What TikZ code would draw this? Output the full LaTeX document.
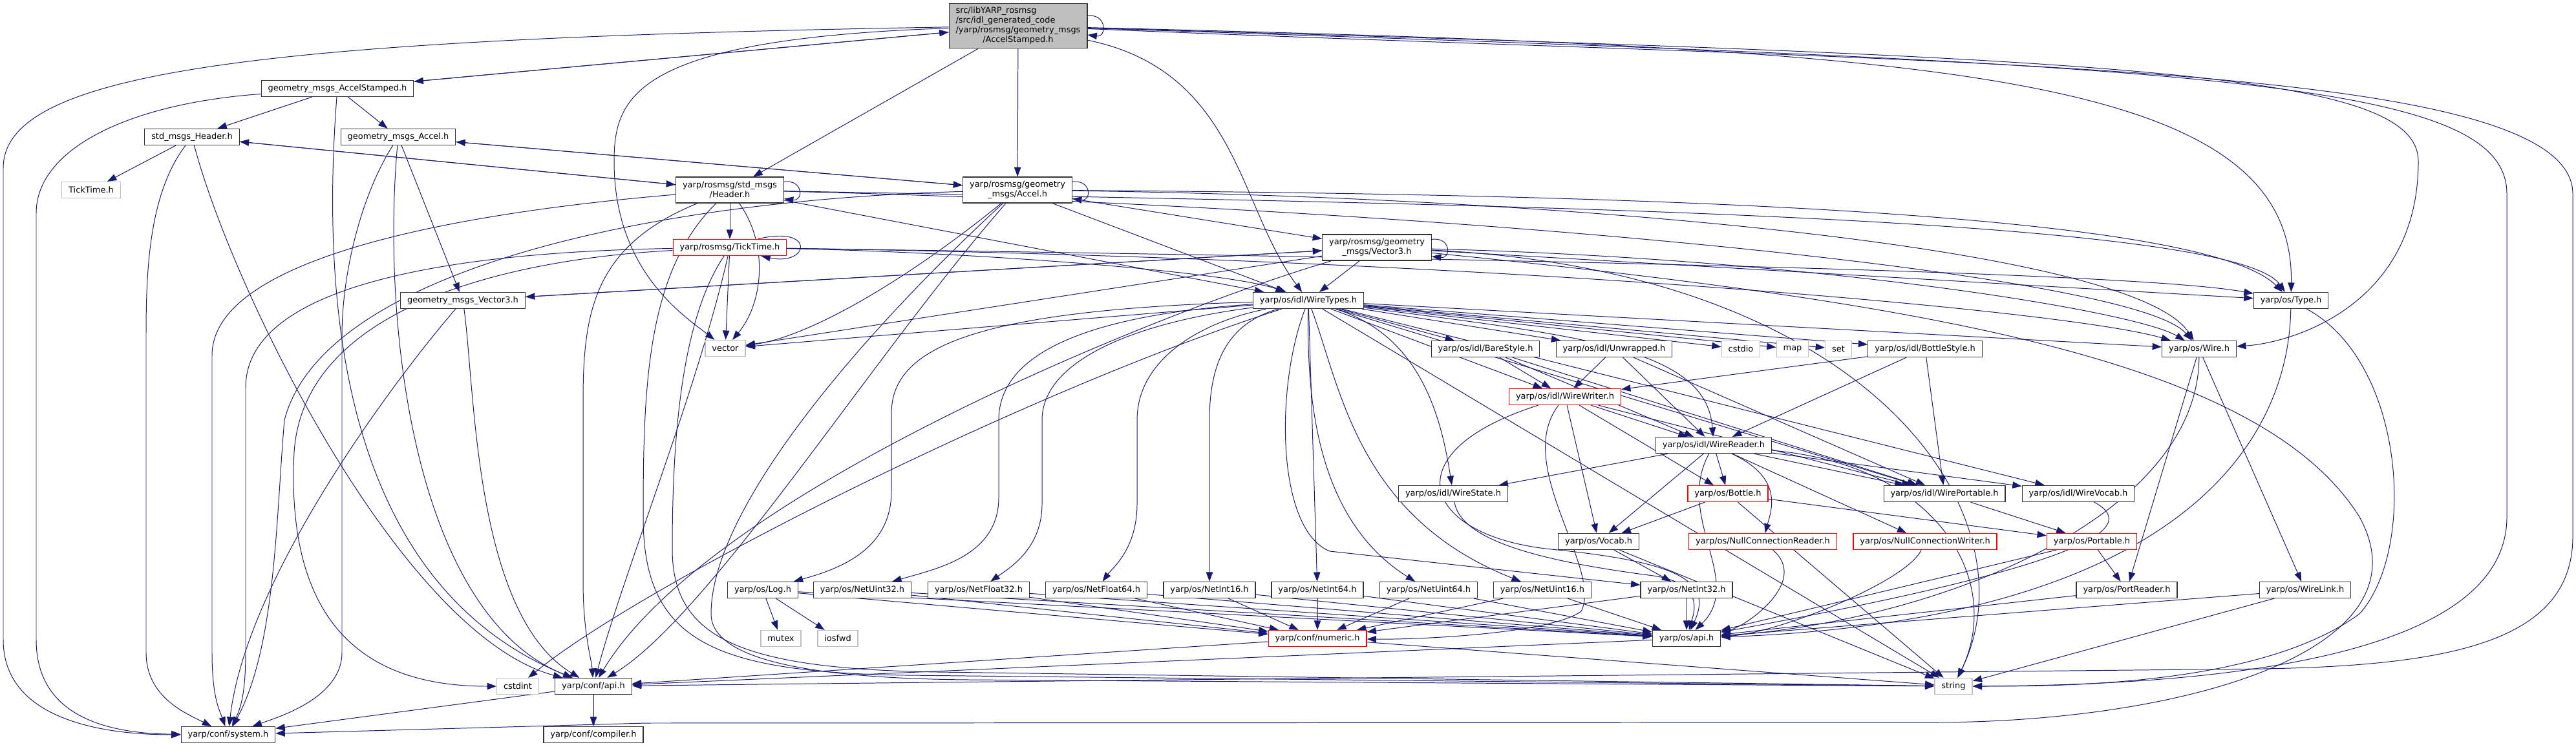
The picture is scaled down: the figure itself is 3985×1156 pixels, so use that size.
\documentclass[tikz,border=0pt]{standalone}
\usepackage{fontspec}
\setmainfont{DejaVu Sans}
\usetikzlibrary{arrows.meta, calc}
\definecolor{edgeblue}{RGB}{25,25,112}
\definecolor{rootgray}{RGB}{191,191,191}
\definecolor{sysgray}{RGB}{191,191,191}
\pgfdeclarelayer{edges}
\pgfsetlayers{edges,main}

\begin{document}
\begin{tikzpicture}[x=0.025cm, y=-0.025cm,
    every node/.style={font=\fontsize{9.2}{10.5}\selectfont},
    filebox/.style={rectangle, draw=black!80, fill=white, line width=0.9pt,
                    inner xsep=0.26cm, inner ysep=0pt, minimum height=0.625cm},
    redbox/.style={filebox, draw=red},
    sysbox/.style={filebox, draw=sysgray},
    twoline/.style={filebox, align=center, minimum height=1cm},
    rootbox/.style={filebox, fill=rootgray, minimum height=1.74cm},
    dep/.style={draw=edgeblue, line width=0.7pt, -{Triangle[length=0.36cm,width=0.26cm]}}
  ]
  \useasboundingbox (0,0) rectangle (3985,1156);

  % top: the file itself and the old-style wrappers
  \node[rootbox] (root) at (1575,40) {\begin{tabular}{@{}l@{}}src/libYARP\_rosmsg\\/src/idl\_generated\_code\\/yarp/rosmsg/geometry\_msgs\\\multicolumn{1}{@{}c@{}}{/AccelStamped.h}\end{tabular}};
  \node[filebox] (gmAS) at (522,137) {geometry\_msgs\_AccelStamped.h};
  \node[filebox] (smH) at (297,212) {std\_msgs\_Header.h};
  \node[filebox] (gmA) at (616,212) {geometry\_msgs\_Accel.h};
  \node[sysbox] (tt0) at (141,294) {TickTime.h};
  \node[twoline] (hdr) at (1129,294) {yarp/rosmsg/std\_msgs\\/Header.h};
  \node[twoline] (acc) at (1574,294) {yarp/rosmsg/geometry\\\_msgs/Accel.h};
  \node[redbox] (tick) at (1129,383) {yarp/rosmsg/TickTime.h};
  \node[twoline] (vec3) at (2130,383) {yarp/rosmsg/geometry\\\_msgs/Vector3.h};
  \node[filebox] (gmV3) at (716,465) {geometry\_msgs\_Vector3.h};

  % wire types row
  \node[filebox] (wtypes) at (2024,465) {yarp/os/idl/WireTypes.h};
  \node[sysbox] (vector) at (1122,539) {vector};
  \node[filebox] (type) at (3544,465) {yarp/os/Type.h};
  \node[filebox] (wire) at (3402,540) {yarp/os/Wire.h};
  \node[filebox] (bare) at (2298,540) {yarp/os/idl/BareStyle.h};
  \node[filebox] (unwr) at (2497,540) {yarp/os/idl/Unwrapped.h};
  \node[sysbox] (cstdio) at (2693,540) {cstdio};
  \node[sysbox] (map) at (2773,540) {map};
  \node[sysbox] (set) at (2844,540) {set};
  \node[filebox] (bstyle) at (2978,540) {yarp/os/idl/BottleStyle.h};
  \node[redbox] (wwriter) at (2421,614) {yarp/os/idl/WireWriter.h};
  \node[filebox] (wreader) at (2651,689) {yarp/os/idl/WireReader.h};
  \node[filebox] (wstate) at (2248,764) {yarp/os/idl/WireState.h};
  \node[redbox] (bottle) at (2673,764) {yarp/os/Bottle.h};
  \node[filebox] (wport) at (3008,764) {yarp/os/idl/WirePortable.h};
  \node[filebox] (wvocab) at (3215,764) {yarp/os/idl/WireVocab.h};
  \node[filebox] (vocab) at (2473,838) {yarp/os/Vocab.h};
  \node[redbox] (ncr) at (2727,838) {yarp/os/NullConnectionReader.h};
  \node[redbox] (ncw) at (2978,838) {yarp/os/NullConnectionWriter.h};
  \node[redbox] (portable) at (3236,838) {yarp/os/Portable.h};

  % net types row
  \node[filebox] (log) at (1180,913) {yarp/os/Log.h};
  \node[filebox] (nu32) at (1334,913) {yarp/os/NetUint32.h};
  \node[filebox] (nf32) at (1514,913) {yarp/os/NetFloat32.h};
  \node[filebox] (nf64) at (1696,913) {yarp/os/NetFloat64.h};
  \node[filebox] (ni16) at (1871,913) {yarp/os/NetInt16.h};
  \node[filebox] (ni64) at (2038,913) {yarp/os/NetInt64.h};
  \node[filebox] (nu64) at (2210,913) {yarp/os/NetUint64.h};
  \node[filebox] (nu16) at (2386,913) {yarp/os/NetUint16.h};
  \node[filebox] (ni32) at (2609,913) {yarp/os/NetInt32.h};
  \node[filebox] (preader) at (3290,913) {yarp/os/PortReader.h};
  \node[filebox] (wlink) at (3566,913) {yarp/os/WireLink.h};

  % bottom
  \node[sysbox] (mutex) at (1208,988) {mutex};
  \node[sysbox] (iosfwd) at (1296,988) {iosfwd};
  \node[redbox] (numeric) at (2038,988) {yarp/conf/numeric.h};
  \node[filebox] (osapi) at (2609,988) {yarp/os/api.h};
  \node[sysbox] (cstdint) at (801,1062) {cstdint};
  \node[filebox] (confapi) at (918,1062) {yarp/conf/api.h};
  \node[sysbox] (string) at (3022,1062) {string};
  \node[filebox] (system) at (353,1137) {yarp/conf/system.h};
  \node[filebox] (compiler) at (918,1137) {yarp/conf/compiler.h};

  \begin{pgfonlayer}{edges}
  % plain includes
  \foreach \a/\b in {root/gmAS, gmAS/root, root/hdr, root/acc, gmAS/smH, gmAS/gmA,
      smH/tt0, smH/hdr, hdr/smH, gmA/gmV3, gmA/acc, acc/gmA,
      hdr/tick, hdr/wtypes, acc/vec3, acc/wtypes, tick/vector,
      vec3/gmV3, gmV3/vec3, vec3/wtypes, vec3/vector, vec3/type,
      wtypes/vector, wtypes/bare, wtypes/unwr, wtypes/cstdio, wtypes/map, wtypes/set,
      wtypes/bstyle, wtypes/wire, wtypes/wwriter, wtypes/wport, wtypes/wvocab,
      wtypes/ni64, wtypes/string,
      bare/wwriter, bare/wreader, bare/wport, unwr/wwriter, unwr/wreader, unwr/wport,
      bstyle/wwriter, bstyle/wreader, bstyle/wport,
      wwriter/wreader, wwriter/vocab, wwriter/bottle, wwriter/wport,
      wreader/wstate, wreader/vocab, wreader/bottle, wreader/ncw, wreader/wport, wreader/wvocab,
      bottle/vocab, bottle/portable, bottle/string, vocab/ni32, vocab/string,
      wport/portable, portable/preader, portable/osapi, preader/osapi,
      wire/wlink, wire/preader, wlink/osapi, wlink/string,
      log/mutex, log/iosfwd, log/numeric, log/osapi,
      nu32/numeric, nu32/osapi, nf32/numeric, nf32/osapi, nf64/numeric, nf64/osapi,
      ni16/numeric, ni16/osapi, ni64/numeric, ni64/osapi, nu64/numeric, nu64/osapi,
      nu16/numeric, nu16/osapi, ni32/osapi, ni32/numeric,
      numeric/confapi, numeric/string, osapi/confapi, confapi/system, confapi/compiler}
    \draw[dep] (\a) -- (\b);

  % root
  \draw[dep] (root) .. controls (1915,110) and (1915,320) .. (wtypes);
  \draw[dep] (root) .. controls (980,60) and (950,150) .. (950,250) .. controls (950,420) and (1060,490) .. (vector);
  \draw[dep] (root) .. controls (3000,75) and (3550,110) .. (type);
  \draw[dep] (root) .. controls (3300,90) and (3741,110) .. (3741,250) .. controls (3741,470) and (3550,530) .. (wire);
  \draw[dep] (root) .. controls (3400,100) and (3878,120) .. (3878,300) -- (3878,800) .. controls (3878,1000) and (3500,1060) .. (string);
  \draw[dep] (root) .. controls (3000,100) and (3980,90) .. (3980,300) -- (3980,830) .. controls (3980,990) and (3800,1030) .. (3500,1035) .. controls (2500,1045) and (1500,1055) .. (confapi);
  \draw[dep] (root) .. controls (400,60) and (5,110) .. (5,260) -- (5,990) .. controls (5,1110) and (150,1137) .. (system);
  \draw[dep] ($(root.north east)+(0,20)$) .. controls +(30,-4) and +(30,4) .. ($(root.east)+(0,14)$);

  % old-style wrappers
  \draw[dep] (gmAS) .. controls (200,160) and (56,230) .. (56,330) -- (56,990) .. controls (56,1100) and (150,1135) .. (system);
  \draw[dep] (gmAS) .. controls (498,450) and (520,900) .. (confapi);
  \draw[dep] (smH) .. controls (230,300) and (226,420) .. (226,520) -- (226,1010) .. controls (226,1080) and (290,1105) .. (system);
  \draw[dep] (smH) .. controls (360,450) and (620,980) .. (confapi);
  \draw[dep] (gmA) .. controls (560,300) and (529,420) .. (529,520) -- (529,1010) .. controls (529,1080) and (430,1110) .. (system);
  \draw[dep] (gmA) .. controls (590,500) and (640,950) .. (confapi);
  \draw[dep] (gmV3) .. controls (600,600) and (380,900) .. (system);
  \draw[dep] (gmV3) .. controls (735,600) and (733,950) .. (confapi);

  % rosmsg headers
  \draw[dep] (hdr) .. controls (1190,380) and (1180,470) .. (vector);
  \draw[dep] (hdr) .. controls (2200,315) and (3450,330) .. (type);
  \draw[dep] (hdr) .. controls (2200,320) and (3300,420) .. (wire);
  \draw[dep] (hdr) .. controls (1000,420) and (995,600) .. (995,800) .. controls (995,990) and (1100,1040) .. (1400,1045) -- (string);
  \draw[dep] (hdr) .. controls (700,330) and (328,400) .. (328,550) -- (328,1010) .. controls (328,1080) and (340,1100) .. (system);
  \draw[dep] (hdr) .. controls (920,380) and (902,480) .. (902,620) -- (902,900) .. controls (902,980) and (915,1020) .. (confapi);
  \draw[dep] ($(hdr.north east)+(0,8)$) .. controls +(30,-4) and +(30,4) .. ($(hdr.south east)+(0,-7)$);

  \draw[dep] (acc) .. controls (1420,420) and (1260,520) .. (vector);
  \draw[dep] (acc) .. controls (2400,300) and (3400,320) .. (type);
  \draw[dep] (acc) .. controls (2400,305) and (3300,380) .. (wire);
  \draw[dep] (acc) .. controls (1350,500) and (1100,780) .. (1100,950) .. controls (1100,1020) and (1250,1050) .. (1500,1052) -- (string);
  \draw[dep] (acc) .. controls (1000,310) and (500,420) .. (440,650) .. controls (427,800) and (427,1000) .. (system);
  \draw[dep] (acc) .. controls (1350,550) and (1100,950) .. (confapi);
  \draw[dep] ($(acc.north east)+(0,8)$) .. controls +(30,-4) and +(30,4) .. ($(acc.south east)+(0,-7)$);

  \draw[dep] (tick) .. controls (1500,390) and (1900,420) .. (wtypes);
  \draw[dep] (tick) .. controls (2300,400) and (3300,420) .. (type);
  \draw[dep] (tick) .. controls (2300,400) and (3200,480) .. (wire);
  \draw[dep] (tick) .. controls (1050,500) and (1040,700) .. (1040,850) .. controls (1040,990) and (1150,1035) .. (1450,1040) -- (string);
  \draw[dep] (tick) .. controls (700,390) and (380,440) .. (380,600) -- (380,1010) .. controls (380,1080) and (370,1100) .. (system);
  \draw[dep] (tick) .. controls (800,400) and (470,470) .. (455,700) .. controls (440,1000) and (600,1062) .. (cstdint);
  \draw[dep] (tick) .. controls (1080,600) and (960,900) .. (confapi);
  \draw[dep] ($(tick.north east)+(-45,0)$) .. controls +(90,-22) and +(75,16) .. ($(tick.south east)+(-40,0)$);

  \draw[dep] (vec3) .. controls (2800,400) and (3300,480) .. (wire);
  \draw[dep] (vec3) .. controls (2900,420) and (3150,800) .. (string);
  \draw[dep] (vec3) .. controls (3000,470) and (3500,560) .. (3650,800) .. controls (3760,1000) and (3400,1115) .. (3000,1118) -- (1000,1119) -- (system);
  \draw[dep] (vec3) .. controls (1800,480) and (1100,760) .. (confapi);
  \draw[dep] ($(vec3.north east)+(0,8)$) .. controls +(30,-4) and +(30,4) .. ($(vec3.south east)+(0,-7)$);

  % wire types fan
  \draw[dep] (wtypes) .. controls (1500,480) and (1379,540) .. (1379,640) -- (1379,760) .. controls (1379,850) and (1300,880) .. (log);
  \draw[dep] (wtypes) .. controls (1650,490) and (1545,560) .. (1545,650) -- (1545,770) .. controls (1545,860) and (1450,880) .. (nu32);
  \draw[dep] (wtypes) .. controls (1750,500) and (1612,560) .. (1612,650) -- (1612,780) .. controls (1612,850) and (1560,880) .. (nf32);
  \draw[dep] (wtypes) .. controls (1850,500) and (1759,560) .. (1759,650) -- (1759,780) .. controls (1759,850) and (1720,880) .. (nf64);
  \draw[dep] (wtypes) .. controls (1900,500) and (1871,560) .. (1871,650) -- (ni16);
  \draw[dep] (wtypes) .. controls (2022,600) and (2030,800) .. (nu64);
  \draw[dep] (wtypes) .. controls (2074,600) and (2100,800) .. (nu16);
  \draw[dep] (wtypes) .. controls (1972,600) and (1975,820) .. (2057,853) -- (ni32);
  \draw[dep] (wtypes) .. controls (2200,520) and (2230,650) .. (wstate);
  \draw[dep] (wtypes) .. controls (2450,520) and (2640,540) .. (wreader);
  \draw[dep] (wtypes) .. controls (1600,600) and (1000,900) .. (cstdint);

  % idl readers and writers
  \draw[dep] (wwriter) .. controls (2150,700) and (2200,830) .. (2400,850) .. controls (2600,870) and (2650,900) .. (osapi);
  \draw[dep] (wwriter) .. controls (2340,720) and (2480,880) .. (2446,946) .. controls (2400,980) and (2200,990) .. (numeric);
  \draw[dep] (wreader) .. controls (2590,800) and (2700,900) .. (osapi);
  \draw[dep] (wreader) .. controls (2760,740) and (2740,790) .. (ncr);
  \draw[dep] (wreader) .. controls (3000,720) and (3100,900) .. (string);
  \draw[dep] (wstate) .. controls (2260,840) and (2400,870) .. (2550,890) .. controls (2640,900) and (2620,950) .. (osapi);
  \draw[dep] (ncr) .. controls (2800,900) and (2700,970) .. (osapi);
  \draw[dep] (ncw) .. controls (2950,900) and (2750,980) .. (osapi);
  \draw[dep] (wvocab) .. controls (3320,820) and (3200,880) .. (osapi);
  \draw[dep] (type) .. controls (3540,700) and (3350,960) .. (osapi);
  \draw[dep] (type) .. controls (3720,560) and (3740,850) .. (3650,950) .. controls (3500,1060) and (3200,1062) .. (string);
  \draw[dep] (wire) .. controls (3400,800) and (3000,960) .. (osapi);
  \end{pgfonlayer}
\end{tikzpicture}
\end{document}
